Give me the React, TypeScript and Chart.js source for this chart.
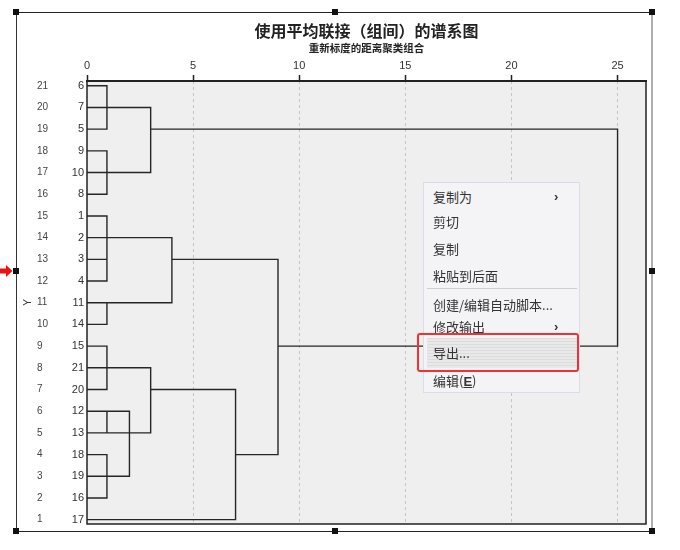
import React, { useEffect, useRef } from 'react';
import { Chart, registerables } from 'chart.js';

Chart.register(...registerables);

// ---------- data ----------
const TITLE = '使用平均联接（组间）的谱系图';
const SUBTITLE = '重新标度的距离聚类组合';
const AXIS_TITLE = 'Y';

// case labels listed top to bottom
const caseLabels = ['6', '7', '5', '9', '10', '8', '1', '2', '3', '4', '11', '14', '15', '21', '20', '12', '13', '18', '19', '16', '17'];
// row numbers (Y) top to bottom
const rowNumbers = [21, 20, 19, 18, 17, 16, 15, 14, 13, 12, 11, 10, 9, 8, 7, 6, 5, 4, 3, 2, 1];
// rescaled distance ticks
const distanceTicks = [0, 5, 10, 15, 20, 25];

// dendrogram brackets: upper member, lower member, join distance, start distance of upper/lower arm
const bracketUpper = ['6', '7', '9', '5', '1', '3', '2', '11', '3', '15', '21', '12', '12', '18', '20'];
const bracketLower = ['5', '10', '8', '15', '4', '3', '11', '14', '18', '20', '13', '19', '13', '16', '17'];
const bracketDistance = [0.94, 3, 0.94, 25, 0.94, 0.94, 4, 0.94, 9, 0.94, 3, 2, 0.94, 0.94, 7];
const upperStart = [0, 0, 0, 3, 0, 0, 0, 0.94, 4, 0, 0, 0, 0.94, 0, 3];
const lowerStart = [0, 0, 0, 9, 0, 0, 0, 0, 7, 0, 0, 0, 0.94, 0, 0];

// context menu texts
const menuItems = ['复制为', '剪切', '复制', '粘贴到后面', '创建/编辑自动脚本...', '修改输出', '导出...'];
const menuHasSub = [true, false, false, false, false, true, false];

// ---------- helpers ----------
const rowOf = (label: string) => rowNumbers[caseLabels.indexOf(label)];

const FONT = "'Liberation Sans', Arial, sans-serif";
const CJK = "'Noto Sans CJK SC', 'Noto Sans', sans-serif";

const decorPlugin = {
  id: 'decor',
  beforeDraw(chart: any) {
    const { ctx, chartArea } = chart;
    const { left, top, right, bottom } = chartArea;
    ctx.save();
    ctx.fillStyle = '#ffffff';
    ctx.fillRect(0, 0, chart.width, chart.height);
    ctx.fillStyle = '#efefef';
    ctx.fillRect(left, top, right - left, bottom - top);
    ctx.restore();
  },
  afterDatasetsDraw(chart: any) {
    const { ctx, chartArea } = chart;
    const { left, top, right, bottom } = chartArea;
    ctx.save();
    ctx.strokeStyle = '#222';
    ctx.lineWidth = 1.5;
    ctx.beginPath();
    ctx.moveTo(left, top);
    ctx.lineTo(left, bottom);
    ctx.lineTo(right, bottom);
    ctx.lineTo(right, top);
    ctx.stroke();
    ctx.lineWidth = 2;
    ctx.beginPath();
    ctx.moveTo(left - 1, top);
    ctx.lineTo(right + 1, top);
    ctx.stroke();
    ctx.restore();
  },
  afterDraw(chart: any) {
    const { ctx, chartArea } = chart;
    const cx = (chartArea.left + chartArea.right) / 2;
    ctx.save();
    ctx.fillStyle = '#222';
    ctx.textAlign = 'center';
    ctx.textBaseline = 'middle';
    ctx.font = `bold 16px ${CJK}`;
    ctx.fillText(TITLE, cx, chartArea.top - 50);
    ctx.font = `bold 10.5px ${CJK}`;
    ctx.fillText(SUBTITLE, cx, chartArea.top - 33);
    ctx.restore();
  },
};

export default function App() {
  const canvasRef = useRef<HTMLCanvasElement | null>(null);

  useEffect(() => {
    if (!canvasRef.current) return;
    const datasets = bracketUpper.map((u, i) => {
      const l = bracketLower[i];
      const ru = rowOf(u);
      const rl = rowOf(l);
      const d = bracketDistance[i];
      return {
        data: [
          { x: upperStart[i], y: ru },
          { x: d, y: ru },
          { x: d, y: rl },
          { x: lowerStart[i], y: rl },
        ],
        showLine: true,
        borderColor: '#262626',
        borderWidth: 1.4,
        pointRadius: 0,
        xAxisID: 'x',
        yAxisID: 'y',
      };
    });

    const yRange = { min: 0.8, max: 21.22 };

    const chart = new Chart(canvasRef.current, {
      type: 'scatter',
      data: { datasets },
      options: {
        animation: false,
        responsive: false,
        layout: { padding: { left: 16, right: 34, top: 59, bottom: 26 } },
        plugins: { legend: { display: false }, tooltip: { enabled: false } },
        scales: {
          x: {
            type: 'linear',
            position: 'top',
            min: 0,
            max: 26.34,
            afterBuildTicks: (s: any) => {
              s.ticks = distanceTicks.map((v) => ({ value: v }));
            },
            afterFit: (s: any) => {
              s.height = 22;
            },
            ticks: { padding: 2, color: '#333', font: { family: FONT, size: 11 }, maxRotation: 0 },
            grid: {
              color: (c: any) => (c.tick && c.tick.value === 0 ? 'rgba(0,0,0,0)' : '#c4c4c4'),
              lineWidth: 1,
              tickColor: '#222',
              tickLength: 6,
              tickWidth: 1.5,
              tickBorderDash: [],
            },
            border: { display: false, dash: [3, 3] },
          },
          y: {
            type: 'linear',
            position: 'left',
            weight: 0,
            ...yRange,
            afterBuildTicks: (s: any) => {
              s.ticks = rowNumbers.map((v) => ({ value: v }));
            },
            afterFit: (s: any) => {
              s.width = 25;
            },
            ticks: {
              autoSkip: false,
              padding: 3,
              color: '#333',
              font: { family: FONT, size: 11 },
              callback: (v: any) => caseLabels[rowNumbers.indexOf(Number(v))],
            },
            grid: { display: false, drawTicks: false },
            border: { display: false },
          },
          yRow: {
            type: 'linear',
            position: 'left',
            weight: 1,
            ...yRange,
            afterBuildTicks: (s: any) => {
              s.ticks = rowNumbers.map((v) => ({ value: v }));
            },
            afterFit: (s: any) => {
              s.width = 25;
            },
            ticks: {
              autoSkip: false,
              crossAlign: 'far',
              padding: 0,
              color: '#444',
              font: { family: FONT, size: 10 },
              callback: (v: any) => String(v),
            },
            grid: { display: false, drawTicks: false },
            border: { display: false },
          },
          yTitle: {
            type: 'linear',
            position: 'left',
            weight: 2,
            ...yRange,
            afterFit: (s: any) => {
              s.width = 21;
            },
            ticks: { display: false },
            grid: { display: false, drawTicks: false },
            border: { display: false },
            title: {
              display: true,
              text: AXIS_TITLE,
              color: '#333',
              font: { family: FONT, size: 10 },
              padding: { top: 6, bottom: 0 },
            },
          },
        },
      } as any,
      plugins: [decorPlugin],
    });
    return () => chart.destroy();
  }, []);

  const handle = (x: number, y: number, key: string) => (
    <div
      key={key}
      style={{ position: 'absolute', left: x - 3, top: y - 3, width: 6, height: 6, background: '#111' }}
    />
  );

  const menuCenters = [197, 222, 249, 276, 305, 327, 353];

  return (
    <div style={{ position: 'absolute', left: 0, top: 0, width: 680, height: 550, overflow: 'hidden', background: '#fff' }}>
      <canvas ref={canvasRef} width={680} height={550} style={{ position: 'absolute', left: 0, top: 0 }} />
      {/* selection frame */}
      <div style={{ position: 'absolute', left: 16, top: 12, width: 636, height: 1, background: '#222' }} />
      <div style={{ position: 'absolute', left: 16, top: 531, width: 636, height: 1, background: '#222' }} />
      <div style={{ position: 'absolute', left: 16, top: 12, width: 1, height: 519, background: '#333' }} />
      <div style={{ position: 'absolute', left: 651, top: 12, width: 2, height: 519, background: '#b0b0b0' }} />
      {handle(16, 12, 'h1')}
      {handle(335, 12, 'h2')}
      {handle(652, 12, 'h3')}
      {handle(16, 271, 'h4')}
      {handle(652, 271, 'h5')}
      {handle(16, 531, 'h6')}
      {handle(335, 531, 'h7')}
      {handle(652, 531, 'h8')}
      <svg style={{ position: 'absolute', left: 0, top: 265 }} width={13} height={12}>
        <polygon points="0,3.5 6,3.5 6,0 12.5,6 6,12 6,8.5 0,8.5" fill="#ee1111" />
      </svg>
      {/* context menu */}
      <div
        style={{
          position: 'absolute',
          left: 423,
          top: 182,
          width: 157,
          height: 211,
          background: '#f4f4f6',
          border: '1px solid #d9dcea',
          boxSizing: 'border-box',
        }}
      />
      <div style={{ position: 'absolute', left: 427, top: 288, width: 150, height: 1, background: '#cfcfcf' }} />
      <div
        style={{
          position: 'absolute',
          left: 427,
          top: 338,
          width: 150,
          height: 30,
          background: 'repeating-linear-gradient(to bottom, #dcdcdc 0px, #dcdcdc 1px, #e9e9e9 1px, #e9e9e9 3px)',
        }}
      />
      {menuItems.map((t, i) => (
        <React.Fragment key={t}>
          <div
            style={{
              position: 'absolute',
              left: 433,
              top: menuCenters[i] - 9,
              height: 18,
              lineHeight: '18px',
              fontFamily: CJK,
              fontSize: 13,
              color: '#333',
              whiteSpace: 'nowrap',
            }}
          >
            {t}
          </div>
          {menuHasSub[i] && (
            <div
              style={{
                position: 'absolute',
                left: 554,
                top: menuCenters[i] - 9,
                height: 18,
                lineHeight: '18px',
                fontFamily: FONT,
                fontWeight: 'bold',
                fontSize: 13,
                color: '#333',
              }}
            >
              ›
            </div>
          )}
        </React.Fragment>
      ))}
      <div
        style={{
          position: 'absolute',
          left: 433,
          top: 381 - 9,
          height: 18,
          lineHeight: '18px',
          fontFamily: CJK,
          fontSize: 13,
          color: '#333',
          whiteSpace: 'nowrap',
        }}
      >
        编辑(<span style={{ textDecoration: 'underline', fontWeight: 'bold', fontFamily: FONT }}>E</span>)
      </div>
      <div
        style={{
          position: 'absolute',
          left: 417,
          top: 333,
          width: 162,
          height: 39,
          border: '2.5px solid #f23232',
          borderRadius: 3,
          boxSizing: 'border-box',
        }}
      />
    </div>
  );
}
